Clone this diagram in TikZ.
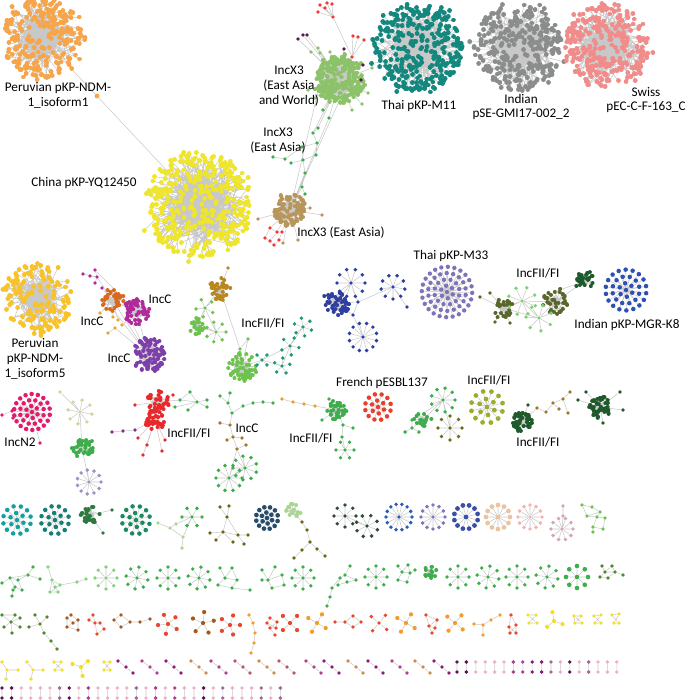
\documentclass[tikz,border=0pt]{standalone}
\usepackage{fontspec}
\setmainfont{Carlito}
\usetikzlibrary{calc}
\pgfdeclarelayer{bg}
\pgfsetlayers{bg,main}

\definecolor{edgegray}{HTML}{C8C8C8}
\definecolor{perO}{HTML}{F6A54A}
\definecolor{chY}{HTML}{EEE52C}
\definecolor{thT}{HTML}{14877E}
\definecolor{inG}{HTML}{8B8D8C}
\definecolor{swP}{HTML}{F08C8A}
\definecolor{xG}{HTML}{8CC26A}
\definecolor{xB}{HTML}{B8955A}
\definecolor{rdA}{HTML}{EE3B36}
\definecolor{puD}{HTML}{5A1A55}
\definecolor{gM}{HTML}{3DAE4B}
\definecolor{goP}{HTML}{F7C22A}
\definecolor{cO}{HTML}{D8691F}
\definecolor{cM}{HTML}{B02A9C}
\definecolor{cP}{HTML}{7E3FAA}
\definecolor{cL}{HTML}{E8A534}
\definecolor{gB}{HTML}{B8881E}
\definecolor{lG}{HTML}{6CC34E}
\definecolor{lG2}{HTML}{82D27A}
\definecolor{tG}{HTML}{1E9A78}
\definecolor{bL}{HTML}{2E3FA0}
\definecolor{lv}{HTML}{7E72B9}
\definecolor{oD}{HTML}{59682A}
\definecolor{dG}{HTML}{1E5A2C}
\definecolor{bM}{HTML}{2E50B2}
\definecolor{nT}{HTML}{E51A6E}
\definecolor{kh}{HTML}{D6D1A0}
\definecolor{lvL}{HTML}{9C94C8}
\definecolor{rF}{HTML}{E8282A}
\definecolor{pC}{HTML}{8A2A8E}
\definecolor{bC}{HTML}{9C7A2A}
\definecolor{oC}{HTML}{E3A032}
\definecolor{fR}{HTML}{EC3C2C}
\definecolor{oL}{HTML}{9CAD2C}
\definecolor{olv}{HTML}{6E6A1A}
\definecolor{tl}{HTML}{13A0A0}
\definecolor{tk}{HTML}{167F74}
\definecolor{dgB}{HTML}{2E7A3C}
\definecolor{gt}{HTML}{1C8A60}
\definecolor{lgL}{HTML}{A8D890}
\definecolor{olvK}{HTML}{6E6519}
\definecolor{dbl}{HTML}{284D6B}
\definecolor{dk}{HTML}{2F4A3A}
\definecolor{bS}{HTML}{2A5AB5}
\definecolor{lvB}{HTML}{7C78BA}
\definecolor{bD}{HTML}{3B4EA6}
\definecolor{pch}{HTML}{E8C4A0}
\definecolor{pnk}{HTML}{F4B3B3}
\definecolor{mv}{HTML}{D3A3B8}
\definecolor{gR}{HTML}{4E8A2A}
\definecolor{brR}{HTML}{A5581F}
\definecolor{rR}{HTML}{E8472B}
\definecolor{orR}{HTML}{F39B2B}
\definecolor{ylR}{HTML}{F2DF2A}
\definecolor{puS}{HTML}{8B1C7C}
\definecolor{mgS}{HTML}{B0408F}
\definecolor{boS}{HTML}{D08A48}
\definecolor{rbS}{HTML}{B8585E}
\definecolor{dpS}{HTML}{5A1558}
\definecolor{pkS}{HTML}{EDB2C6}
\definecolor{pmS}{HTML}{A06A98}

\tikzset{
  edge/.style={draw=edgegray, line width=0.4pt},
  dot/.style={circle, inner sep=0pt, minimum size=3.6pt},
  sdot/.style={circle, inner sep=0pt, minimum size=2.9pt},
  lbl/.style={font=\fontsize{9.9}{11.2}\selectfont, align=center, inner sep=0pt}
}

% edges are collected and drawn once, behind everything
\gdef\edgepath{}
\newcommand{\addedge}[2]{%
  \xdef\edgepath{\unexpanded\expandafter{\edgepath} (#1) -- (#2)}}

% dense cluster: name, x, y, radius, count, colour, dot size
\newcommand{\hairball}[7]{%
  \coordinate (#1) at (#2,#3);
  \coordinate (#1-s) at (#2,{#3+0.8*#4});
  \coordinate (#1-n) at (#2,{#3-0.8*#4});
  \coordinate (#1-w) at ({#2-0.8*#4},#3);
  \coordinate (#1-e) at ({#2+0.8*#4},#3);
  \gdef\hbE{}\gdef\hbD{}%
  \foreach \kk in {1,...,#5}{
    \pgfmathsetmacro{\ang}{360*rnd}
    \pgfmathsetmacro{\rad}{#4*(0.05+0.95*sqrt(rnd))*(1+0.12*(rnd>0.88))}
    \pgfmathsetmacro{\hrad}{#4*0.6*sqrt(rnd)}
    \pgfmathsetmacro{\hang}{360*rnd}
    \pgfmathsetmacro{\ex}{#2+\rad*cos(\ang)}
    \pgfmathsetmacro{\ey}{#3+\rad*sin(\ang)}
    \pgfmathsetmacro{\hx}{#2+\hrad*cos(\hang)}
    \pgfmathsetmacro{\hy}{#3+\hrad*sin(\hang)}
    \xdef\hbE{\hbE (\hx,\hy) -- (\ex,\ey)}%
    \xdef\hbD{\hbD (\ex,\ey) -- ++(0.01,0)}%
  }
  \fill[edgegray] (#1) circle ({0.4*#4});
  \draw[edge] \hbE;
  \draw[draw=#6, line width=#7, line cap=round] \hbD;
}

% star: name, x, y, radius, leaves, node options, start angle
\newcommand{\stargr}[7]{%
  \node[sdot,#6] (#1) at (#2,#3) {};
  \foreach \kk in {1,...,#5}{
    \pgfmathsetmacro{\ang}{#7+360*\kk/#5}
    \node[sdot,#6] (#1-\kk) at ({#2+#4*cos(\ang)},{#3+#4*sin(\ang)}) {};
    \addedge{#1}{#1-\kk}
  }}

% rings round a hub: name, x, y, rings, spacing, colour, dot size
\newcommand{\ringgr}[7]{%
  \node[dot,minimum size=#7,fill=#6] (#1) at (#2,#3) {};
  \foreach \ri in {1,...,#4}{
    \pgfmathtruncatemacro{\nm}{round(6.0*\ri)}
    \foreach \kk in {1,...,\nm}{
      \pgfmathsetmacro{\ang}{360*\kk/\nm+23*\ri}
      \node[dot,minimum size=#7,fill=#6] (#1-\ri-\kk) at ({#2+#5*\ri*cos(\ang)},{#3+#5*\ri*sin(\ang)}) {};
      \addedge{#1}{#1-\ri-\kk}
    }}}

% small graphs
\newcommand{\gnodes}[3]{%
  \foreach \px/\py [count=\kk] in {#3}
    \node[sdot,#2] (#1-\kk) at (\px,\py) {};}
\newcommand{\gedges}[2]{%
  \foreach \a/\b in {#2} {\addedge{#1-\a}{#1-\b}}}
\newcommand{\links}[1]{%
  \foreach \a/\b in {#1} {\addedge{\a}{\b}}}

\begin{document}
\begin{tikzpicture}[x=0.75pt,y=-0.75pt]
\useasboundingbox (0,0) rectangle (685,700);
\pgfmathsetseed{4711}

%% top row, big clusters
\hairball{perA}{42}{38}{40}{240}{perO}{3.6pt}
\hairball{chn}{199}{205}{54}{380}{chY}{3.6pt}
\hairball{thM}{418}{48}{44}{320}{thT}{3.6pt}
\hairball{inS}{518}{47}{44}{310}{inG}{3.6pt}
\hairball{swC}{607}{45}{42}{290}{swP}{3.6pt}
\hairball{xEW}{340}{80}{24}{230}{xG}{3.4pt}
\hairball{xEA}{290}{210}{16}{90}{xB}{3.2pt}
\node[dot,fill=perO] (perX) at (97,96) {};
\links{perA/perX,perX/chn}

%% IncX3 surroundings
\gnodes{rT}{fill=rdA}{320/5,327/3,332/4,318/12,325/8,333/17,352/57,353/36,358/37,364/40}
\gedges{rT}{1/6,2/6,3/6,4/6,5/6,6/7,8/7,9/7,10/7}
\gnodes{pT}{fill=puD}{298/39,303/35,307/35,344/49,363/65,361/80}
\gnodes{gX}{fill=xG}{318/48,311/52,320/53,330/52,372/68,368/93,315/98,308/90,352/110,362/104}
\links{rT-7/xEW,pT-1/xEW,pT-2/xEW,pT-3/xEW,pT-4/xEW,pT-5/xEW,pT-6/xEW,gX-1/xEW,gX-2/xEW,gX-3/xEW,gX-4/xEW,gX-5/xEW,gX-6/xEW,gX-7/xEW,gX-8/xEW,gX-9/xEW,gX-10/xEW}
\gnodes{gC}{fill=gM}{323/110,329/118,318/128,313/133,317/143,302/147,285/159,273/157,291/163,303/160,316/155,305/173,302/187,305/194}
\gedges{gC}{3/4,4/5,5/6,6/7,7/8,9/10,10/11,11/5,10/12,12/13,13/14,6/10}
\links{gC-1/xEW,gC-2/xEW,gC-3/xEW,gC-4/xEW,gC-14/xEA,gC-13/xEA,gC-12/xEA,xEW-w/xEA,xEW-s/xEA,gC-2/xEA}
\gnodes{bX}{fill=xB}{258/219,310/208,322/215,298/240,283/243}
\links{bX-1/xEA,bX-2/xEA,bX-3/xEA,bX-4/xEA,bX-5/xEA}
\gnodes{rX}{fill=rdA}{270/228,277/232,282/232,265/238,270/241,274/245,279/240}
\gedges{rX}{1/2,2/3,4/5,5/6,6/7,1/4,3/7,2/5}
\links{rX-2/xEA,rX-3/xEA,rX-1/xEA}

%% second row
\hairball{perB}{38}{298}{35}{150}{goP}{3.6pt}

% IncC
\hairball{icO}{113}{301}{11}{35}{cO}{3pt}
\hairball{icM}{137}{312}{13}{55}{cM}{3pt}
\hairball{icP}{148}{355}{17}{80}{cP}{3.2pt}
\gnodes{mL}{fill=cM}{83/274,95/270,97/277,90/276,95/283,102/288}
\gedges{mL}{1/3,2/3,4/3,3/5}
\links{mL-3/icO,mL-6/icO,mL-2/icM}
\gnodes{oL}{fill=cL}{113/317,118/320,115/328,108/333,100/313,122/325}
\links{oL-1/icO,oL-2/icO,oL-3/icP,oL-4/oL-3,oL-5/icO,oL-6/icM,icO/icM,icM/icP,icO/icP,icO-s/icP,icM-w/icP}

% gold and green groups
\hairball{fGB}{220}{289}{11}{40}{gB}{3pt}
\node[sdot,fill=gB] (fGBt) at (228,268) {};
\stargr{fS1}{205}{308}{9}{5}{fill=lG}{30}
\hairball{fH1}{197}{326}{8}{25}{lG}{3pt}
\stargr{fS2}{216}{332}{10}{7}{fill=lG}{0}
\hairball{fH2}{242}{367}{14}{60}{lG}{3pt}
\gnodes{fG}{fill=lG}{240/349,248/339}
\links{fGBt/fGB,fGB/fS1,fGB/fG-1,fS1/fH1,fS1/fS2,fH1/fS2,fG-1/fH2,fG-2/fH2,fG-1/fG-2}

% teal chain
\stargr{tA}{262}{360}{7}{4}{fill=tG}{45}
\stargr{tB}{290}{346}{9}{5}{fill=tG}{10}
\stargr{tC}{282}{366}{8}{5}{fill=tG}{60}
\stargr{tD}{303}{327}{9}{6}{fill=tG}{20}
\links{fH2/tA,tA/tB,tA/tC,tB/tC,tB/tD}

% blue group
\hairball{bA}{337}{303}{13}{45}{bL}{3pt}
\stargr{bB}{351}{283}{14}{10}{fill=bL}{0}
\stargr{bC}{363}{337}{14}{12}{fill=bL}{15}
\stargr{bDs}{393}{287}{12}{9}{fill=bL}{10}
\gnodes{bE}{fill=bL}{358/302,353/315,407/307}
\links{bA/bB,bA/bE-1,bE-1/bB,bE-1/bE-2,bE-2/bC,bA/bE-2,bE-1/bDs,bDs/bE-3}

\ringgr{thB}{447}{292}{4}{6.3}{lv}{3.3pt}

% olive group
\hairball{oA}{503}{308}{10}{25}{oD}{3pt}
\gnodes{oAl}{fill=oD}{480/297,490/293,495/322,510/323}
\links{oAl-1/oA,oAl-2/oA,oAl-3/oA,oAl-4/oA}
\stargr{oB}{522}{301}{14}{8}{fill=lG2}{200}
\hairball{oCc}{555}{302}{13}{40}{oD}{3pt}
\stargr{oE}{539}{318}{13}{7}{fill=lG2}{30}
\hairball{oF}{585}{281}{10}{30}{dG}{3pt}
\links{oA/oB,oB/oCc,oB/oE,oE/oCc,oA/oE,oCc/oF,oCc-n/oF}

\ringgr{inK}{626}{290}{3}{6.8}{bM}{3.4pt}

%% third row
\ringgr{nTw}{32}{412}{3}{6}{nT}{3.4pt}
\gnodes{nO}{fill=nT}{2/415,12/411,13/418,40/443}
\links{nO-1/nO-2,nO-2/nTw,nO-3/nTw,nO-4/nTw}
\stargr{khA}{80}{412}{12}{8}{fill=kh}{190}
\node[sdot,fill=kh] (khT) at (60,392) {};
\hairball{khG}{82}{448}{11}{35}{gM}{3pt}
\stargr{lvA}{89}{482}{12}{11}{fill=lvL}{0}
\links{khT/khA,khA/khG,khG/lvA}

% red IncFII/FI
\hairball{rA}{158}{402}{11}{30}{rF}{3.2pt}
\hairball{rB}{155}{420}{10}{28}{rF}{3.2pt}
\gnodes{rO}{fill=rF}{143/455,162/451,138/438,147/445,165/440,135/405,173/395}
\links{rO-1/rB,rO-2/rB,rO-3/rB,rO-4/rB,rO-5/rB,rO-6/rA,rO-7/rA,rA/rB}
\gnodes{pCh}{fill=pC}{112/432,123/431,135/430}
\gedges{pCh}{1/2,2/3}
\links{pCh-3/rB}
\gnodes{gS}{fill=gM}{190/392,197/402,207/400,207/407,175/407,180/400,188/410}
\gedges{gS}{1/2,2/3,2/4,5/2,6/2,7/2,1/6}
\links{rA/gS-5,rA/gS-6}

% IncC chain
\gnodes{cg}{fill=gM}{220/396,230/393,228/403,232/413,243/406,253/403,263/402,273/403}
\gedges{cg}{1/3,2/3,3/4,4/5,5/6,6/7,7/8}
\gnodes{cb}{fill=bC}{220/423,230/425,233/437,227/440,242/438,237/449,246/445}
\gedges{cb}{1/2,2/3,3/4,3/5,3/6,6/7}
\links{cg-4/cb-2}
\stargr{cS1}{229}{478}{13}{10}{fill=gM}{0}
\stargr{cS2}{245}{468}{12}{9}{fill=gM}{20}
\links{cb-6/cS1,cb-6/cS2,cS1/cS2}

% orange chain and green cluster
\gnodes{oc}{fill=oC}{282/399,293/402,304/404,315/406}
\gedges{oc}{1/2,2/3,3/4}
\hairball{gH1}{337}{410}{10}{35}{gM}{3pt}
\gnodes{gd}{fill=gM}{343/425,353/428,342/437,329/399,322/420}
\stargr{gS2}{345}{450}{9}{6}{fill=gM}{0}
\links{oc-4/gH1,gH1/gd-1,gd-1/gd-2,gd-1/gd-3,gd-3/gS2,gd-4/gH1,gd-5/gH1}

\ringgr{frE}{378}{407}{2}{6.5}{fR}{3.4pt}

\hairball{gH2}{423}{420}{8}{20}{gM}{3pt}
\stargr{gS3}{443}{400}{12}{9}{fill=gM}{0}
\stargr{gS4}{412}{428}{8}{3}{fill=gM}{150}
\stargr{oS5}{450}{428}{12}{8}{fill=olv}{0}
\links{gS4/gH2,gH2/gS3,gS3/oS5,gH2-n/gS3}

\ringgr{olR}{487}{407}{2}{8}{oL}{3.6pt}

\hairball{dgA}{522}{422}{10}{40}{dG}{3.2pt}
\gnodes{dch}{fill=bC}{537/408,546/412,553/403,563/399,570/392,568/413,559/409}
\node[sdot,fill=dG] (dgt) at (528,405) {};
\gedges{dch}{1/2,2/3,3/4,4/5,4/6,3/7}
\links{dgA/dch-1,dgA/dgt}
\hairball{dgB}{600}{407}{11}{40}{dG}{3.2pt}
\gnodes{dgl}{fill=dG}{578/400,586/392,620/392,623/410,603/423}
\links{dgl-1/dgB,dgl-2/dgB,dgl-3/dgB,dgl-4/dgB,dgl-5/dgB}

%% fourth row
\ringgr{q1}{17}{520}{2}{7}{tl}{3.4pt}
\ringgr{q2}{55}{520}{2}{7}{tk}{3.4pt}
\hairball{q3}{90}{515}{9}{25}{dgB}{3.2pt}
\gnodes{q3l}{fill=dgB}{112/510,103/533}
\links{q3/q3l-1,q3/q3l-2}
\ringgr{q4}{136}{520}{2}{7}{gt}{3.4pt}
\stargr{q5}{192}{517}{10}{6}{fill=gM}{0}
\gnodes{q5l}{fill=lgL}{158/523,170/528,183/537,182/548,176/524}
\gedges{q5l}{1/2,2/3,3/4,2/5}
\links{q5l-5/q5,q5l-3/q5}
\gnodes{q6}{fill=olvK}{227/517,223/532,238/535,220/507,229/506,210/533,248/535,244/544,233/542,216/540}
\gedges{q6}{1/2,1/3,1/4,1/5,2/6,3/7,3/8,2/9,2/10,2/3}
\ringgr{q7}{267}{518}{2}{5.5}{dbl}{3.5pt}
\hairball{q8}{293}{511}{7}{14}{lgL}{3pt}
\gnodes{q8c}{fill=olvK}{302/522,307/530,310/542,302/550,317/549,325/556,294/558}
\gedges{q8c}{1/2,2/3,3/4,3/5,5/6,4/7}
\links{q8/q8c-1}
\stargr{q9}{345}{516}{11}{8}{fill=dk}{0}
\stargr{q10}{367}{526}{11}{8}{fill=dk}{20}
\links{q9/q10}
\stargr{q11}{399}{517}{13}{14}{fill=bS}{0}
\stargr{q12}{433}{517}{12}{12}{fill=lvB}{0}
\stargr{q13}{466}{517}{12}{12}{fill=bD,minimum size=3.6pt}{15}
\stargr{q14}{498}{517}{12}{12}{fill=pch,minimum size=3.6pt}{0}
\stargr{q15}{530}{517}{12}{12}{fill=pnk}{0}
\stargr{q16}{562}{529}{11}{10}{fill=mv}{0}
\gnodes{q16t}{fill=mv}{563/506,563/516}
\links{q16t-1/q16t-2,q16t-2/q16}
\gnodes{q17}{fill=lG}{582/505,592/507,587/516,597/517,605/518,593/527,603/529,593/532,600/512}
\gedges{q17}{1/2,1/3,2/9,3/9,9/4,4/5,4/6,5/7,6/7,6/8,3/4}

%% fifth row
\gnodes{w1}{fill=gM}{10/578,18/580,28/575,33/567,15/587,13/590,12/596,40/579,22/590,2/583}
\gedges{w1}{1/2,2/3,3/4,1/5,5/6,6/7,3/8,2/9,9/5,10/1,1/3}
\gnodes{w2}{fill=lG2}{48/567,52/580,55/587,60/585,50/592,58/592,77/582,86/579}
\gedges{w2}{1/2,2/3,3/4,4/5,5/6,6/3,2/4,4/7,7/8,2/5}
\stargr{w3}{106}{578}{11}{8}{fill=lG2}{0}
\stargr{w4}{137}{578}{11}{8}{fill=gM}{10}
\stargr{w5}{168}{578}{11}{8}{fill=gM}{0}
\stargr{w6}{199}{578}{11}{8}{fill=gM}{10}
\gnodes{w7}{fill=gM}{220/568,232/568,225/578,237/580,218/585,232/588,250/590}
\gedges{w7}{1/3,2/3,3/4,3/5,4/6,5/6,6/7,2/4}
\gnodes{w8}{fill=gM}{262/570,275/567,268/580,282/575,284/585,272/588,262/580}
\gedges{w8}{1/3,2/3,3/4,4/5,3/6,3/7,5/6}
\stargr{w9}{303}{578}{11}{8}{fill=gM}{0}
\gnodes{w10}{fill=gM}{350/566,345/575,340/578,356/580,332/588,338/585,347/582,330/597,327/606}
\gedges{w10}{1/2,2/3,2/4,3/5,3/6,6/7,7/4,5/8,8/9}
\stargr{w11}{376}{577}{11}{8}{fill=gM}{0}
\gnodes{w12}{fill=gM}{398/566,408/565,402/572,410/573,398/580,407/582,415/570}
\gedges{w12}{1/3,2/3,3/4,3/5,4/6,5/6,4/7,2/4}
\hairball{w13}{430}{572}{6}{14}{gM}{3pt}
\stargr{w14}{458}{577}{11}{8}{fill=gM}{0}
\stargr{w15}{488}{577}{11}{8}{fill=gM}{10}
\stargr{w16}{517}{577}{11}{8}{fill=gM}{0}
\stargr{w17}{547}{577}{11}{8}{fill=gM}{10}
\stargr{w18}{577}{577}{11}{8}{fill=gM,minimum size=3.5pt}{0}
\gnodes{w19}{fill=gR}{602/566,612/566,605/572,615/572,600/577,608/578,623/575}
\gedges{w19}{1/3,2/3,3/4,3/5,4/6,5/6,4/7,2/4}

%% sixth row
\gnodes{v1}{fill=gR}{11/622,2/615,15/615,20/618,4/627,20/627,12/633}
\gedges{v1}{1/2,1/3,1/4,1/5,1/6,1/7,2/3}
\gnodes{v2}{fill=gR}{40/624,35/615,47/617,29/627,44/633,51/641,57/649}
\gedges{v2}{1/2,1/3,1/4,1/5,5/6,6/7}
\gnodes{v3}{fill=brR}{67/618,71/615,78/620,67/627,78/630,73/623}
\gedges{v3}{1/2,2/3,1/4,3/5,4/5,4/6,6/3,1/6}
\gnodes{v4}{fill=rR}{93/615,95/623,100/623,89/620,104/629,97/634}
\gedges{v4}{1/2,2/3,2/4,3/5,2/6,1/4,5/6}
\gnodes{v5}{fill=brR}{121/615,114/620,130/622,121/627,140/622,150/619}
\gedges{v5}{1/2,1/3,2/4,4/3,3/5,5/6}
\stargr{v6}{168}{624}{10}{5}{fill=rR,minimum size=3.2pt}{30}
\stargr{v7}{203}{623}{11}{5}{fill=brR,minimum size=3.2pt}{60}
\stargr{v8}{230}{625}{10}{5}{fill=rR,minimum size=3.2pt}{0}
\gnodes{v9}{fill=orR}{249/615,253/623,255/633,254/643,251/653}
\gedges{v9}{1/2,2/3,3/4,4/5}
\gnodes{v10}{fill=rR}{270/618,277/622,267/623,276/628,270/628,275/635}
\gedges{v10}{1/2,1/3,2/4,3/5,4/5,5/6,2/5,3/4}
\stargr{v11}{290}{623}{10}{4}{fill=rR,minimum size=3.2pt}{45}
\stargr{v12}{317}{623}{10}{4}{fill=orR,minimum size=3.2pt}{30}
\gnodes{v13}{fill=rR}{353/616,345/622,361/622,353/627,335/622}
\gedges{v13}{1/2,1/3,2/4,3/4,2/5}
\stargr{v14}{379}{623}{10}{4}{fill=rR}{40}
\stargr{v15}{406}{623}{10}{4}{fill=orR,minimum size=3.2pt}{30}
\gnodes{v16}{fill=rR}{426/615,437/620,429/626,435/628,432/633}
\gedges{v16}{1/2,1/3,2/3,3/4,4/5,3/5,2/4}
\stargr{v17}{455}{623}{10}{4}{fill=orR,minimum size=3.2pt}{40}
\gnodes{v18}{fill=orR}{474/624,483/625,491/620,500/615,483/635}
\gedges{v18}{1/2,2/3,3/4,2/5}
\gnodes{v19}{fill=rR}{511/615,509/627,516/625,510/633,516/633}
\gedges{v19}{1/2,1/3,2/4,3/5,2/5,3/4}
\gnodes{v20}{fill=ylR}{528/615,536/615,529/623,537/623}
\gedges{v20}{1/2,2/3,3/4,1/4}
\stargr{v21}{554}{621}{9}{3}{fill=ylR,minimum size=3.2pt}{20}
\gnodes{v22}{fill=ylR}{574/616,581/616,575/623,582/623}
\gedges{v22}{1/2,2/3,3/4,1/4,1/3}
\gnodes{v23}{fill=ylR}{594/616,601/615,595/623,601/623}
\gedges{v23}{1/2,2/3,3/4,1/4}
\gnodes{v24}{fill=ylR}{612/615,619/614,614/623,619/623}
\gedges{v24}{1/2,2/3,3/4,1/4}

%% seventh row
\gnodes{y1}{fill=ylR}{2/662,7/670,18/670,6/679}
\gedges{y1}{1/2,2/3,2/4}
\gnodes{y2}{fill=ylR}{27/662,33/670,43/670,31/679}
\gedges{y2}{1/2,2/3,2/4}
\gnodes{y3}{fill=ylR}{54/662,61/662,55/670,62/670}
\gedges{y3}{1/2,2/3,3/4,1/4}
\stargr{y4}{81}{667}{9}{3}{fill=ylR,minimum size=3.2pt}{200}
\gnodes{y5}{fill=ylR}{104/662,110/662,104/670,110/670}
\gedges{y5}{1/2,2/3,3/4,1/4}
\foreach \xx/\cc [count=\kk] in {118/puS,142/mgS,166/puS,191/boS,211/mgS,235/rbS,259/boS,279/rbS,306/mgS,324/puS,348/boS,368/puS,392/mgS,415/boS,434/puS}{
  \node[sdot,fill=\cc] (dA-\kk) at (\xx,661) {};
  \node[sdot,fill=\cc] (dB-\kk) at ({\xx+8},667) {};
  \node[sdot,fill=\cc] (dC-\kk) at ({\xx+15},673) {};
  \addedge{dA-\kk}{dB-\kk}\addedge{dB-\kk}{dC-\kk}
}
\foreach \cc [count=\kk] in {dpS,dpS,pkS,pkS,pkS,pkS,mgS,mgS,puS,puS,pmS,pkS,dpS,pkS,pmS,pkS,pkS,pkS}{
  \pgfmathsetmacro{\xx}{457+9.4*(\kk-1)}
  \node[sdot,fill=\cc] (pA-\kk) at (\xx,662) {};
  \node[sdot,fill=\cc] (pB-\kk) at (\xx,672) {};
  \addedge{pA-\kk}{pB-\kk}
}

%% last row
\foreach \cc [count=\kk] in {dpS,dpS,pkS,pkS,pkS,pkS,pmS,dpS,pkS,mgS,pkS,pkS,pkS,pkS,pmS,pkS,mgS,pkS,mgS,pkS,pkS,dpS,pkS,pmS,pkS,pkS,pkS,pmS,pkS,pmS}{
  \pgfmathsetmacro{\xx}{2+9.6*(\kk-1)}
  \node[sdot,fill=\cc] (lA-\kk) at (\xx,688) {};
  \node[sdot,fill=\cc] (lB-\kk) at (\xx,698) {};
  \addedge{lA-\kk}{lB-\kk}
}

%% all connectors, behind the dots
\begin{pgfonlayer}{bg}
  \draw[edge] \edgepath;
\end{pgfonlayer}

%% labels
\node[lbl] (lPer1) at (58,95) {Peruvian pKP-NDM-\\1\_isoform1};
\node[lbl] (lChn) at (84,183) {China pKP-YQ12450};
\node[lbl] (lX1) at (289,86) {IncX3\\(East Asia\\and World)};
\node[lbl] (lX2) at (278,141) {IncX3\\(East Asia)};
\node[lbl] (lX3) at (341,233) {IncX3 (East Asia)};
\node[lbl] (lTh1) at (419,106) {Thai pKP-M11};
\node[lbl] (lIn1) at (521,107) {Indian\\pSE-GMI17-002\_2};
\node[lbl] (lSw) at (646,100) {Swiss\\pEC-C-F-163\_C};
\node[lbl] (lPer5) at (35,359) {Peruvian\\pKP-NDM-\\1\_isoform5};
\node[lbl] (lC1) at (160,299) {IncC};
\node[lbl] (lC2) at (92,321) {IncC};
\node[lbl] (lC3) at (119,358) {IncC};
\node[lbl] (lF1) at (263,323) {IncFII/FI};
\node[lbl] (lTh2) at (451,256) {Thai pKP-M33};
\node[lbl] (lF2) at (538,273) {IncFII/FI};
\node[lbl] (lInK) at (627,325) {Indian pKP-MGR-K8};
\node[lbl] (lN2) at (20,442) {IncN2};
\node[lbl] (lF3) at (189,433) {IncFII/FI};
\node[lbl] (lC4) at (247,428) {IncC};
\node[lbl] (lF4) at (311,438) {IncFII/FI};
\node[lbl] (lFr) at (382,383) {French pESBL137};
\node[lbl] (lF5) at (489,380) {IncFII/FI};
\node[lbl] (lF6) at (538,442) {IncFII/FI};
\end{tikzpicture}
\end{document}
